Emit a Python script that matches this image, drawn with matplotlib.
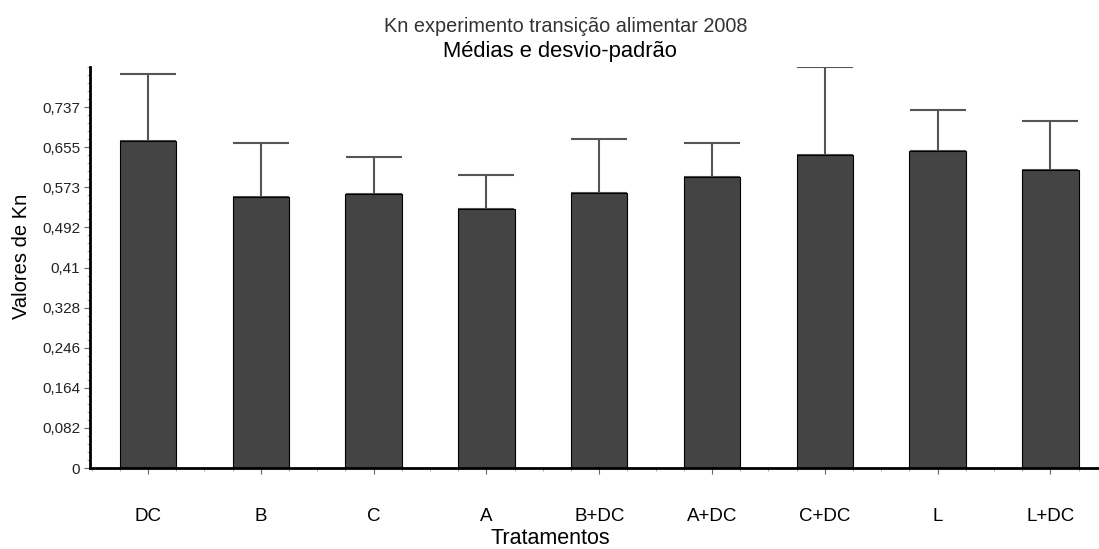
import numpy as np
import matplotlib
matplotlib.use('Agg')
import matplotlib.pyplot as plt
from matplotlib.ticker import MultipleLocator, AutoMinorLocator

plt.rcParams['font.family'] = ['Liberation Sans', 'DejaVu Sans']

# data
tratamentos = ['DC', 'B', 'C', 'A', 'B+DC', 'A+DC', 'C+DC', 'L', 'L+DC']
medias = [0.668, 0.554, 0.560, 0.530, 0.562, 0.594, 0.640, 0.647, 0.608]
desvios = [0.136, 0.109, 0.076, 0.069, 0.111, 0.069, 0.180, 0.085, 0.100]

y_ticks = [0, 0.08192, 0.16384, 0.24576, 0.32768, 0.4096, 0.49152, 0.57344, 0.65536, 0.73728]
y_labels = ['0', '0,082', '0,164', '0,246', '0,328', '0,41', '0,492', '0,573', '0,655', '0,737']

W, H = 1099, 549
fig = plt.figure(figsize=(W / 100, H / 100), dpi=100)
ax = fig.add_axes([90 / W, (H - 468) / H, (W - 90) / W, (468 - 67) / H])

x = np.arange(len(tratamentos))
ax.bar(x, medias, width=0.5, color='#444444', edgecolor='black', linewidth=0.8, zorder=2)
ax.errorbar(x, medias, yerr=[np.zeros(len(desvios)), desvios], fmt='none',
            ecolor='#555555', elinewidth=1.5, capsize=20, capthick=1.5, zorder=1)

ax.set_xlim(-0.514, 8.43)
ax.set_ylim(0, 0.8192)
ax.set_xticks(x)
ax.set_xticklabels(tratamentos, fontsize=13.5)
ax.xaxis.set_minor_locator(MultipleLocator(0.25))
ax.set_yticks(y_ticks)
ax.set_yticklabels(y_labels, fontsize=11, color='#222222')
ax.yaxis.set_minor_locator(AutoMinorLocator(5))

ax.tick_params(axis='both', which='major', direction='out', length=4, width=0.8, color='#666666')
ax.tick_params(axis='both', which='minor', direction='out', length=2, width=0.6, color='#999999')
ax.tick_params(axis='x', pad=25)
ax.tick_params(axis='y', pad=3)

for s in ['top', 'right']:
    ax.spines[s].set_visible(False)
ax.spines['left'].set_linewidth(2)
ax.spines['bottom'].set_linewidth(2)

fig.text(22 / W, 1 - 256 / H, 'Valores de Kn', rotation=90,
         ha='center', va='center', fontsize=14.5)

fig.text(566 / W, 1 - 27 / H, 'Kn experimento transição alimentar 2008',
         ha='center', va='center', fontsize=14.3, color='#333333')
fig.text(560 / W, 1 - 52 / H, 'Médias e desvio-padrão',
         ha='center', va='center', fontsize=15.8, color='black')
fig.text(550 / W, 1 - 539 / H, 'Tratamentos', ha='center', va='center', fontsize=15.5)

fig.savefig('out.png', dpi=100)
